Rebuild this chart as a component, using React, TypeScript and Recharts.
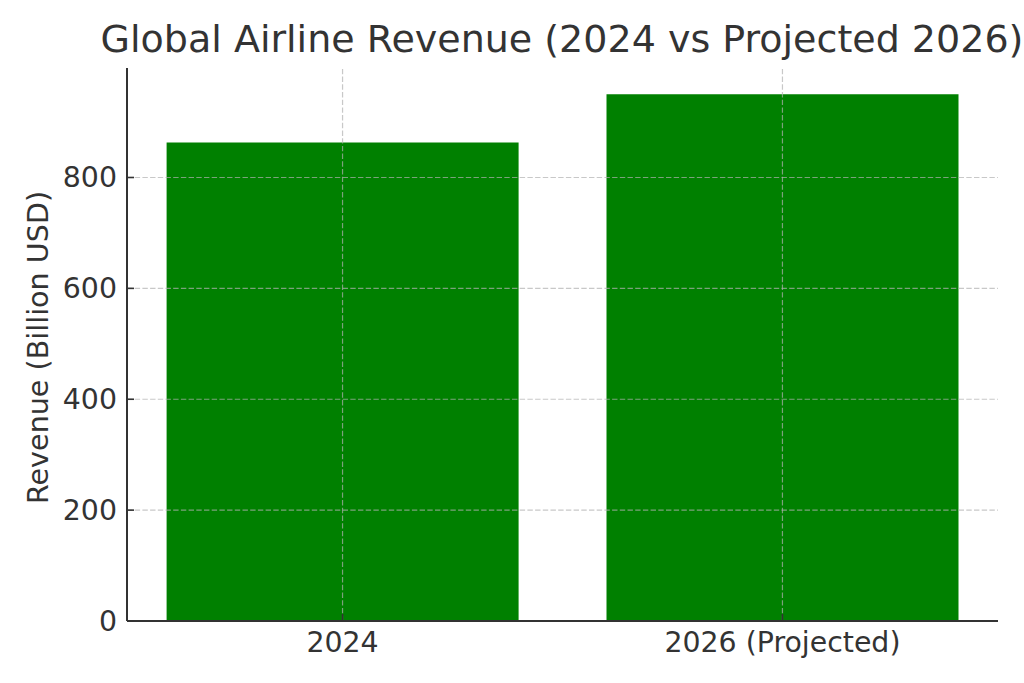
import React from 'react'
import { BarChart, Bar, XAxis, YAxis, ReferenceLine } from 'recharts'

const CATEGORIES = ['2024', '2026 (Projected)']
const REVENUE = [863, 950]
const Y_TICKS = [0, 200, 400, 600, 800]
const X_TICKS = [0, 1]

const FONT = '"DejaVu Sans", sans-serif'
const INK = '#333333'
const GRID = { stroke: '#b0b0b0', strokeOpacity: 0.7, strokeDasharray: '5.4 2.3', strokeWidth: 1.2 }

const data = CATEGORIES.map((name, i) => ({ x: i, name, revenue: REVENUE[i] }))

const TICK_GAP = 10
const TICK_LEN = 7
const TICK_FONT = 28.4

function XTick(props: any) {
  const { x, y, payload } = props
  const axisY = y - TICK_GAP
  return (
    <g>
      <line x1={x} x2={x} y1={axisY} y2={axisY - TICK_LEN} stroke={INK} strokeWidth={1.6} />
      <text x={x} y={y + 21} textAnchor="middle" fill={INK} fontSize={TICK_FONT} fontFamily={FONT}>
        {CATEGORIES[payload.value]}
      </text>
    </g>
  )
}

function YTick(props: any) {
  const { x, y, payload } = props
  const axisX = x + TICK_GAP
  return (
    <g>
      <line x1={axisX} x2={axisX + TICK_LEN} y1={y} y2={y} stroke={INK} strokeWidth={1.6} />
      <text x={x} y={y + 10} textAnchor="end" fill={INK} fontSize={TICK_FONT} fontFamily={FONT}>
        {payload.value}
      </text>
    </g>
  )
}

function YLabel(props: any) {
  const vb = props.viewBox || { x: 0, y: 68, width: 127, height: 553 }
  const cx = 38
  const cy = vb.y + vb.height / 2 + 3
  return (
    <text
      x={cx} y={cy}
      transform={`rotate(-90, ${cx}, ${cy})`}
      textAnchor="middle" dominantBaseline="central"
      fill={INK} fontSize={28.6} fontFamily={FONT}
    >
      Revenue (Billion USD)
    </text>
  )
}

export default function App() {
  return (
    <div style={{ position: 'fixed', left: 0, top: 0, width: 1024, height: 683, background: '#fff' }}>
      <BarChart width={1024} height={683} data={data} margin={{ top: 68, right: 26, bottom: 0, left: 0 }}>
        <Bar dataKey="revenue" fill="#008000" barSize={352} isAnimationActive={false} />
        {Y_TICKS.filter((t) => t > 0).map((t) => (
          <ReferenceLine key={`y${t}`} y={t} {...GRID} />
        ))}
        {X_TICKS.map((t) => (
          <ReferenceLine key={`x${t}`} x={t} {...GRID} />
        ))}
        <XAxis
          type="number" dataKey="x"
          domain={[-0.49, 1.49]} ticks={X_TICKS} interval={0} allowDataOverflow
          height={62} tickSize={0} tickMargin={TICK_GAP} tickLine={false}
          axisLine={{ stroke: INK, strokeWidth: 2 }}
          tick={<XTick />}
        />
        <YAxis
          type="number"
          domain={[0, 997.5]} ticks={Y_TICKS} interval={0} allowDataOverflow
          width={127} tickSize={0} tickMargin={TICK_GAP} tickLine={false}
          axisLine={{ stroke: INK, strokeWidth: 2 }}
          tick={<YTick />}
          label={<YLabel />}
        />
      </BarChart>
      <svg width={1024} height={683} style={{ position: 'absolute', left: 0, top: 0, pointerEvents: 'none' }}>
        <text x={562} y={52} textAnchor="middle" fill={INK} fontSize={38} fontFamily={FONT}>
          Global Airline Revenue (2024 vs Projected 2026)
        </text>
      </svg>
    </div>
  )
}
